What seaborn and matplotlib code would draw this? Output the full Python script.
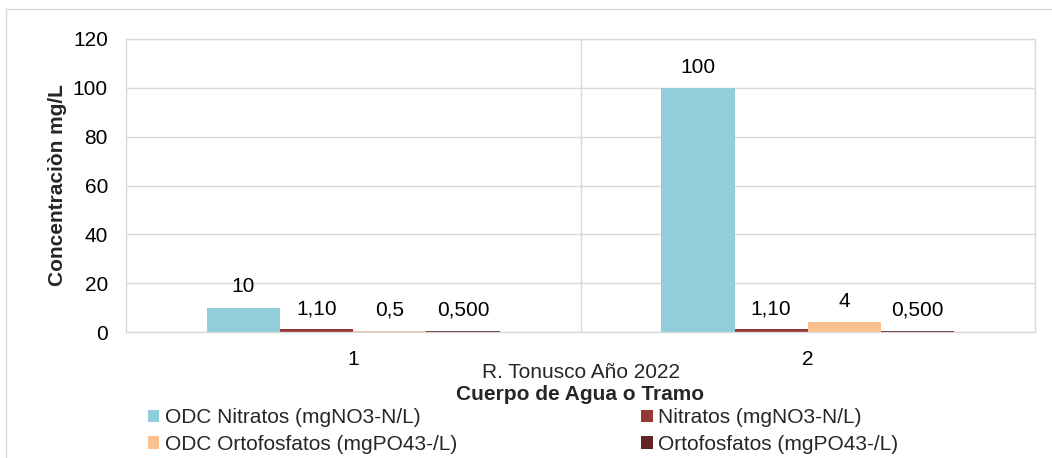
import matplotlib
matplotlib.use("Agg")
import matplotlib.pyplot as plt
from matplotlib.patches import Rectangle
import pandas as pd
import seaborn as sns

# data
tramos = ["1", "2"]
series = ["ODC Nitratos (mgNO3-N/L)", "Nitratos (mgNO3-N/L)",
          "ODC Ortofosfatos (mgPO43-/L)", "Ortofosfatos (mgPO43-/L)"]
odc_nitratos = [10, 100]
nitratos = [1.10, 1.10]
odc_ortofosfatos = [0.5, 4]
ortofosfatos = [0.500, 0.500]
etiquetas = [["10", "100"], ["1,10", "1,10"], ["0,5", "4"], ["0,500", "0,500"]]
colores = ["#92CDDC", "#953735", "#FAC090", "#632523"]
yticks = [0, 20, 40, 60, 80, 100, 120]

valores = [odc_nitratos, nitratos, odc_ortofosfatos, ortofosfatos]
df = pd.DataFrame({
    "tramo": [t for _ in series for t in tramos],
    "parametro": [s for s in series for _ in tramos],
    "valor": [v for vals in valores for v in vals],
})

sns.set_theme(style="white")
plt.rcParams["font.family"] = ["Liberation Sans", "DejaVu Sans"]
fs = 15
grid_c = "#D9D9D9"

fig = plt.figure(figsize=(10.52, 4.58), dpi=100)
ax = fig.add_axes([126 / 1052, 1 - 332 / 458, (1035 - 126) / 1052, (332 - 39) / 458])

sns.barplot(data=df, x="tramo", y="valor", hue="parametro", hue_order=series,
            order=tramos, palette=colores, width=0.644, gap=0, errorbar=None,
            saturation=1, linewidth=0, ax=ax)

for cont, labs in zip(ax.containers, etiquetas):
    ax.bar_label(cont, labels=labs, padding=8, fontsize=fs, color="#000000")

ax.set_ylim(0, 120)
ax.set_yticks(yticks)
ax.set_yticklabels([str(v) for v in yticks])
ax.set_xlim(-0.5, 1.5)
ax.set_xticks([0.5], minor=True)
ax.grid(axis="y", which="major", color=grid_c, linewidth=1)
ax.grid(axis="x", which="minor", color=grid_c, linewidth=1)
ax.set_axisbelow(True)
for s in ax.spines.values():
    s.set_color(grid_c)
    s.set_linewidth(1)
ax.tick_params(axis="both", which="both", length=0, labelsize=fs, colors="#000000")
ax.tick_params(axis="y", pad=13)
ax.tick_params(axis="x", pad=13)

ax.set_xlabel("")
ax.set_ylabel("Concentraciòn mg/L", fontsize=fs, fontweight="bold", labelpad=4)
cx = ax.get_position().x0 + ax.get_position().width / 2
fig.text(cx, 1 - 372 / 458, "R. Tonusco Año 2022", ha="center", va="center", fontsize=fs)
fig.text(cx, 1 - 395 / 458, "Cuerpo de Agua o Tramo", ha="center", va="center",
         fontsize=fs, fontweight="bold")

ax.legend_.remove()
handles, labels = ax.get_legend_handles_labels()
orden = [0, 2, 1, 3]  # row-wise order like the reference
fig.legend([handles[i] for i in orden], [labels[i] for i in orden], ncol=2,
           loc="upper left", mode="expand",
           bbox_to_anchor=(148 / 1052, 1 - 413 / 458, (898 - 148) / 1052, 0.01),
           frameon=False, fontsize=fs, handlelength=0.55, handleheight=0.55,
           handletextpad=0.25, labelspacing=0.35, borderpad=0, borderaxespad=0)

# outer chart border
fig.patches.append(Rectangle((6 / 1052, -0.2), 1.2, 0.2 + 1 - 9 / 458,
                             transform=fig.transFigure, fill=False,
                             edgecolor=grid_c, linewidth=1))

fig.savefig("out.png", dpi=100)
